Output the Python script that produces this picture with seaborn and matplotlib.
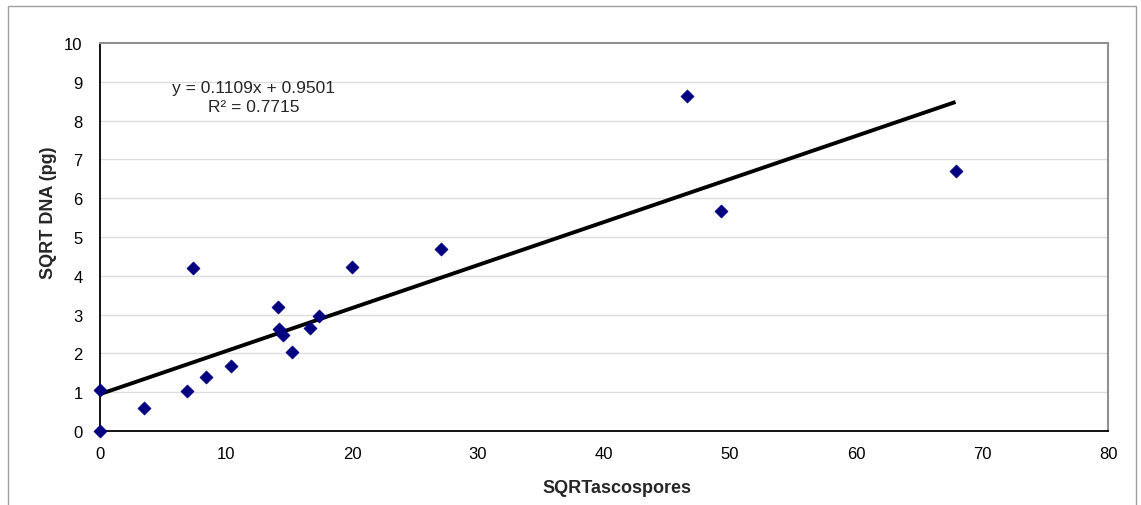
import matplotlib
matplotlib.use("Agg")
import matplotlib.pyplot as plt
import seaborn as sns
import pandas as pd
import numpy as np
from matplotlib.patches import Rectangle

# data
sqrt_ascospores = [0.0, 0.0, 3.5, 6.9, 7.4, 8.4, 10.4, 14.15, 14.2, 14.5, 15.2,
                   16.7, 17.4, 20.0, 27.1, 46.6, 49.3, 67.9]
sqrt_dna = [1.06, 0.0, 0.58, 1.02, 4.21, 1.40, 1.67, 3.20, 2.63, 2.47, 2.04,
            2.66, 2.97, 4.22, 4.69, 8.63, 5.66, 6.70]
slope = 0.1109
intercept = 0.9501
r_squared = 0.7715
x_ticks = [0, 10, 20, 30, 40, 50, 60, 70, 80]
y_ticks = [0, 1, 2, 3, 4, 5, 6, 7, 8, 9, 10]

df = pd.DataFrame({"SQRTascospores": sqrt_ascospores, "SQRT DNA (pg)": sqrt_dna})

sns.set_style("white")
plt.rcParams["font.family"] = ["Liberation Sans", "DejaVu Sans"]

W, H = 1141, 506
fig = plt.figure(figsize=(W / 100, H / 100), dpi=100)
ax = fig.add_axes([100 / W, 74 / H, 1008 / W, 388 / H])

# outer chart frame
fig.patches.append(Rectangle((7.5 / W, -0.05), (1136 - 7.5) / W, 1.05 - 6.5 / H,
                             transform=fig.transFigure, fill=False,
                             edgecolor="#a0a0a0", linewidth=1.0))

# grid
for yv in y_ticks[1:-1]:
    ax.axhline(yv, color="#dcdcdc", linewidth=1.0, zorder=0)

# trendline
xl = np.array([0, max(sqrt_ascospores)])
ax.plot(xl, slope * xl + intercept, color="black", linewidth=2.8, zorder=2,
        solid_capstyle="butt")

sns.scatterplot(data=df, x="SQRTascospores", y="SQRT DNA (pg)", ax=ax,
                marker="D", s=44, color="#000080", edgecolor="#000080",
                linewidth=0.5, zorder=3, clip_on=False)

ax.set_xlim(0, 80)
ax.set_ylim(0, 10)
ax.set_xticks(x_ticks)
ax.set_yticks(y_ticks)
ax.tick_params(axis="both", labelsize=12, direction="out", length=4,
               width=1, color="#808080", labelcolor="#000000")
ax.tick_params(axis="x", pad=6.5)
ax.tick_params(axis="y", pad=8.5)

for s in ["left", "bottom"]:
    ax.spines[s].set_color("black")
    ax.spines[s].set_linewidth(1.3)
for s in ["top", "right"]:
    ax.spines[s].set_color("#909090")
    ax.spines[s].set_linewidth(1.5)

ax.set_xlabel("SQRTascospores", fontsize=13, fontweight="bold")
ax.set_ylabel("SQRT DNA (pg)", fontsize=13, fontweight="bold")
ax.xaxis.set_label_coords((617 - 100) / 1008, (432 - 480) / 388)
ax.yaxis.set_label_coords((57 - 100) / 1008, (432 - 213) / 388)

fig.text(253 / W, 1 - 88.5 / H, f"y = {slope}x + {intercept}", fontsize=12.5,
         ha="center", va="center")
fig.text(253.5 / W, 1 - 107 / H, f"R² = {r_squared}", fontsize=12.5,
         ha="center", va="center")

fig.savefig("out.png", dpi=100)
